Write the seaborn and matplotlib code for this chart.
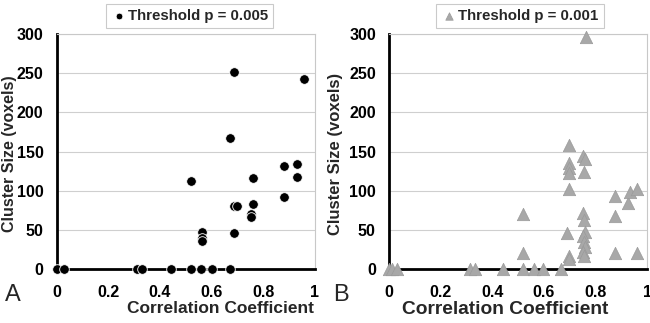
import pandas as pd
import matplotlib.pyplot as plt
import seaborn as sns

# --- values ---
# Panel A: threshold p = 0.005
r_a = [0.0, 0.03, 0.312, 0.329, 0.441, 0.52, 0.56, 0.6, 0.67,
       0.52, 0.564, 0.564, 0.564, 0.688, 0.671, 0.688, 0.70, 0.688,
       0.759, 0.759, 0.751, 0.751, 0.879, 0.879, 0.93, 0.93, 0.959]
size_a = [0, 0, 0, 0, 0, 0, 0, 0, 0,
          112, 47, 40, 36, 252, 167, 81, 81, 46,
          117, 83, 71, 67, 132, 92, 134, 118, 243]

# Panel B: threshold p = 0.001
r_b = [0.0, 0.01, 0.03, 0.314, 0.333, 0.44, 0.518, 0.56, 0.597, 0.665,
       0.518, 0.518, 0.698, 0.698, 0.698, 0.698, 0.698, 0.69, 0.698, 0.698,
       0.753, 0.76, 0.757, 0.753, 0.757, 0.76, 0.753, 0.757, 0.76, 0.753, 0.757,
       0.765, 0.877, 0.877, 0.877, 0.928, 0.932, 0.96, 0.96]
size_b = [0, 0, 0, 0, 0, 0, 0, 0, 0, 0,
          70, 21, 159, 136, 129, 123, 102, 46, 17, 13,
          145, 141, 124, 72, 63, 48, 42, 35, 28, 22, 17,
          296, 93, 68, 21, 84, 99, 102, 21]

x_ticks = [0, 0.2, 0.4, 0.6, 0.8, 1]
x_tick_labels = ["0", "0.2", "0.4", "0.6", "0.8", "1"]
y_ticks = [0, 50, 100, 150, 200, 250, 300]

df_a = pd.DataFrame({"r": r_a, "size": size_a})
df_b = pd.DataFrame({"r": r_b, "size": size_b})

sns.set_style("white")
plt.rcParams["font.family"] = ["Liberation Sans", "DejaVu Sans"]

fig = plt.figure(figsize=(6.5, 3.23), dpi=100)
ax_a = fig.add_axes([0.0872, 0.166, 0.3974, 0.729])
ax_b = fig.add_axes([0.5985, 0.166, 0.397, 0.729])


def style_axis(ax, label_x, xl_size, yl_x, yl_size):
    ax.set_xlim(0, 1)
    ax.set_ylim(0, 300)
    ax.set_xticks(x_ticks)
    ax.set_xticklabels(x_tick_labels)
    ax.set_yticks(y_ticks)
    ax.yaxis.grid(True, color="#cfcfcf", linewidth=0.8)
    ax.set_axisbelow(True)
    for side in ["left", "bottom"]:
        ax.spines[side].set_color("black")
        ax.spines[side].set_linewidth(2.0)
    for side in ["top", "right"]:
        ax.spines[side].set_color("#c8c8c8")
        ax.spines[side].set_linewidth(0.8)
    ax.tick_params(axis="both", direction="inout", length=7, width=1.6,
                   labelsize=11.5, colors="black")
    ax.tick_params(axis="x", pad=7.5)
    ax.tick_params(axis="y", pad=6)
    for lab in ax.get_xticklabels() + ax.get_yticklabels():
        lab.set_fontweight("bold")
    ax.set_xlabel("Correlation Coefficient", fontsize=xl_size, fontweight="bold")
    ax.set_ylabel("Cluster Size (voxels)", fontsize=yl_size, fontweight="bold")
    ax.xaxis.set_label_coords(label_x, -0.135)
    ax.yaxis.set_label_coords(yl_x, 0.49)


sns.scatterplot(data=df_a, x="r", y="size", ax=ax_a, marker="o", s=48,
                color="black", edgecolor="white", linewidth=0.6,
                label="Threshold p = 0.005", clip_on=False, zorder=5)
sns.scatterplot(data=df_b, x="r", y="size", ax=ax_b, marker="^", s=80,
                color="#a8a8a8", edgecolor="#9a9a9a", linewidth=0.5,
                label="Threshold p = 0.001", clip_on=False, zorder=5)

style_axis(ax_a, 0.636, 12.5, -0.154, 11.5)
style_axis(ax_b, 0.45, 13.8, -0.178, 12)

for ax, cx, ms in [(ax_a, 0.2915, 0.7), (ax_b, 0.80, 0.6)]:
    leg = ax.legend(loc="center", bbox_to_anchor=(cx, 0.951),
                    bbox_transform=fig.transFigure, frameon=True,
                    fancybox=False, edgecolor="#bdbdbd", markerscale=ms,
                    handletextpad=0.1, borderpad=0.35, handlelength=1.0,
                    prop={"size": 10.8, "weight": "bold"})
    leg.get_frame().set_linewidth(0.8)

fig.text(0.008, 0.087, "A", fontsize=17, va="center", ha="left")
fig.text(0.512, 0.087, "B", fontsize=17, va="center", ha="left")

fig.savefig("out.png", dpi=100)
